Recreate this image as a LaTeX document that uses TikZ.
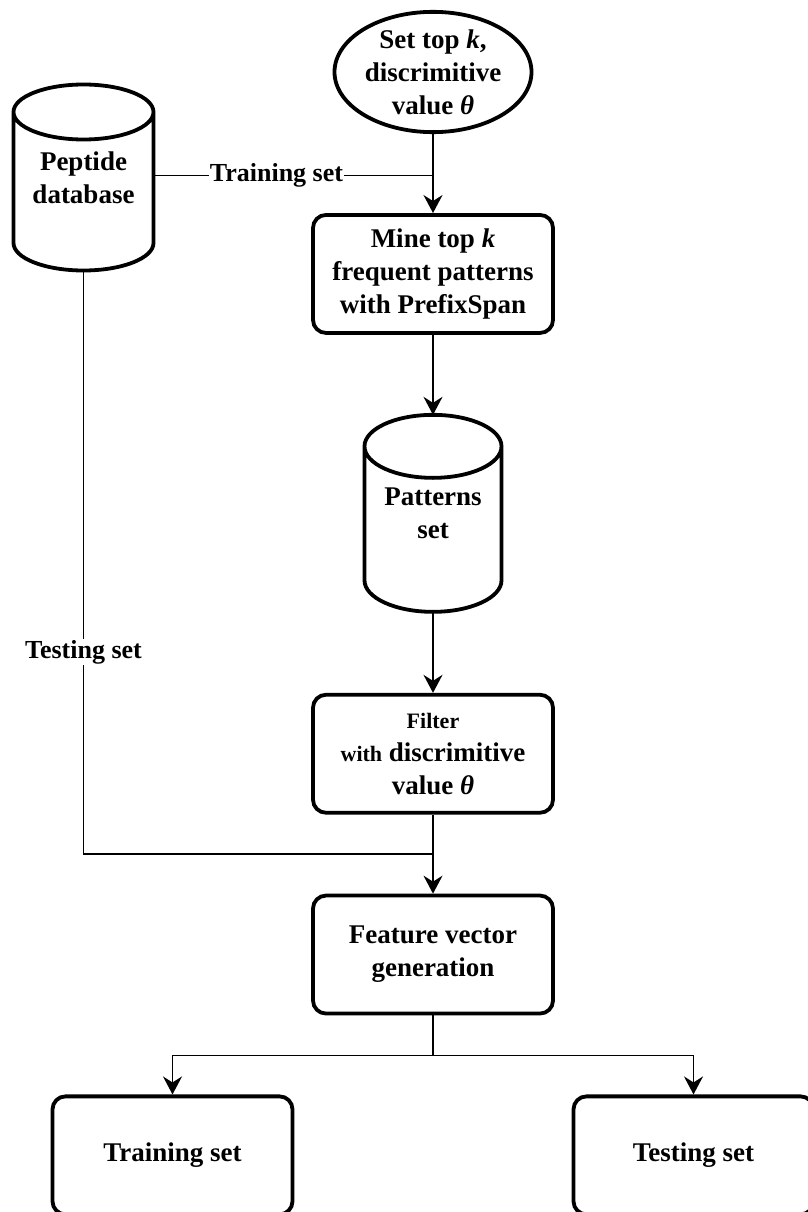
\documentclass[tikz,border=0pt]{standalone}
\usepackage{fontspec}
\setmainfont{Liberation Serif}
\usetikzlibrary{
    shapes,
    shapes.geometric,
    positioning,
    calc,
    arrows.meta
}
\tikzset{
  basic/.style = {
      draw,
      line width=3.8pt,
      font=\bfseries\fontsize{27}{33}\selectfont,
      align=center,
      inner sep=0pt
  },
  round/.style = {
    basic,
    rectangle,
    rounded corners=13pt,
    minimum width=240pt,
    minimum height=118pt
  },
  oval/.style = {
    basic,
    ellipse,
    minimum width=197pt,
    minimum height=118pt
  },
  db/.style = {
    basic,
    draw=none,
    rectangle,
    outer sep=0pt,
    minimum width=137pt,
    minimum height=197pt
  },
  wire/.style = {
      line width=1.8pt
  },
  edge/.style = {
      wire,
      -{Stealth[length=18pt,width=19pt,inset=6pt]}
  },
  tag/.style = {
    font=\bfseries\fontsize{26}{30}\selectfont,
    fill=white,
    inner sep=1pt
  }
}
\newcommand{\smalltxt}[1]{{\fontsize{22}{26}\selectfont #1}}
% outline of a database cylinder round a db node: name, x radius, y radius
\newcommand{\dbshape}[3]{%
  \draw[line width=3.8pt]
    ($(#1.north west)+(0,#3)$) -- ($(#1.south west)+(0,-#3)$)
    arc[start angle=180, end angle=360, x radius=#2pt, y radius=#3pt]
    -- ($(#1.north east)+(0,#3)$)
    arc[start angle=0, end angle=180, x radius=#2pt, y radius=#3pt]
    arc[start angle=180, end angle=360, x radius=#2pt, y radius=#3pt];
}

\begin{document}
\begin{tikzpicture}[x=1pt, y=-1pt, node distance=79pt]
    \useasboundingbox (0,0) rectangle (807,1212);
    % Nodes
    \node[oval] (setk) at (433,72) {Set top \textit{k},\\discrimitive\\value \textit{θ}};
    \node[round, below=of setk] (mine) {Mine top \textit{k}\\frequent patterns\\with PrefixSpan};
    \node[db, below=80pt of mine] (patterns) {Patterns\\set};
    \node[round, below=81pt of patterns] (filter) {\smalltxt{Filter}\\\smalltxt{with} discrimitive\\value \textit{θ}};
    \node[round, below=of filter] (feature) {Feature vector\\generation};
    \node[round, below=of feature, xshift=-260.5pt] (train) {Training set};
    \node[round, below=of feature, xshift=260.5pt] (test) {Testing set};
    \node[db, minimum width=140pt, minimum height=186pt] (peptide) at (83.5,177.5) {Peptide\\database};
    \dbshape{patterns}{68.5}{31.5}
    \dbshape{peptide}{70}{27.5}
    \coordinate (pout) at ($(peptide.east)+(0,-2)$);
    \coordinate (jtop) at (pout -| setk.south);
    \coordinate (jbot) at ($(filter.south)!0.5!(feature.north)$);
    \coordinate (split) at ($(feature.south)+(0,40)$);
    % Edges
    \draw[edge] (setk) -- (mine);
    \draw[wire] (pout) -- node[tag, pos=0.44] {Training set} (jtop);
    \draw[edge] (mine) -- (patterns);
    \draw[edge] (patterns) -- (filter);
    \draw[edge] (filter) -- (feature);
    \draw[wire] (peptide.south) |- node[tag, pos=0.327] {Testing set} (jbot);
    \draw[wire] (feature) -- (split);
    \draw[edge] (split) -| (train);
    \draw[edge] (split) -| (test);
\end{tikzpicture}
\end{document}
